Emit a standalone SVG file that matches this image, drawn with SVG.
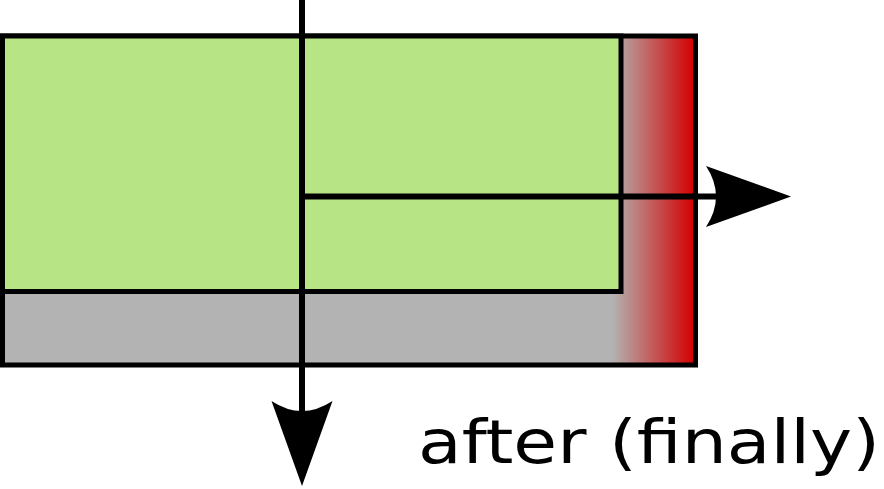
<svg xmlns="http://www.w3.org/2000/svg" width="884" height="489" viewBox="0 0 884 489">
  <style>
    .box { stroke: #000; stroke-width: 5; }
    .conn { stroke: #000; stroke-width: 6; fill: none; }
    .label { font-family: "DejaVu Sans", "Liberation Sans", sans-serif; font-size: 60px; fill: #000; }
  </style>
  <defs>
    <linearGradient id="fade" gradientUnits="userSpaceOnUse" x1="612" y1="0" x2="694" y2="0">
      <stop offset="0" stop-color="#b3b3b3"/>
      <stop offset="1" stop-color="#d40000"/>
    </linearGradient>
    <marker id="arrow" markerUnits="userSpaceOnUse" viewBox="-20 -35 100 70" markerWidth="100" markerHeight="70" refX="0" refY="0" orient="auto" overflow="visible">
      <path d="M71,0 L-14,-30.5 Q6,0 -14,30.5 Z" fill="#000"/>
    </marker>
  </defs>
  <g id="outer">
    <rect x="2.5" y="36" width="693" height="329" fill="#b3b3b3"/>
    <rect x="610" y="36" width="85.5" height="329" fill="url(#fade)"/>
    <rect class="box" x="2.5" y="36" width="693" height="329" fill="none"/>
  </g>
  <g id="inner">
    <rect class="box" x="2.5" y="36" width="618.5" height="255.5" fill="#b7e585"/>
  </g>
  <g id="connectors">
    <line class="conn" x1="302" y1="-2" x2="302" y2="415" marker-end="url(#arrow)"/>
    <line class="conn" x1="302" y1="196.5" x2="720" y2="196.5" marker-end="url(#arrow)"/>
  </g>
  <g id="caption">
    <text class="label" x="418" y="463" textLength="462" lengthAdjust="spacingAndGlyphs">after (finally)</text>
  </g>
</svg>
